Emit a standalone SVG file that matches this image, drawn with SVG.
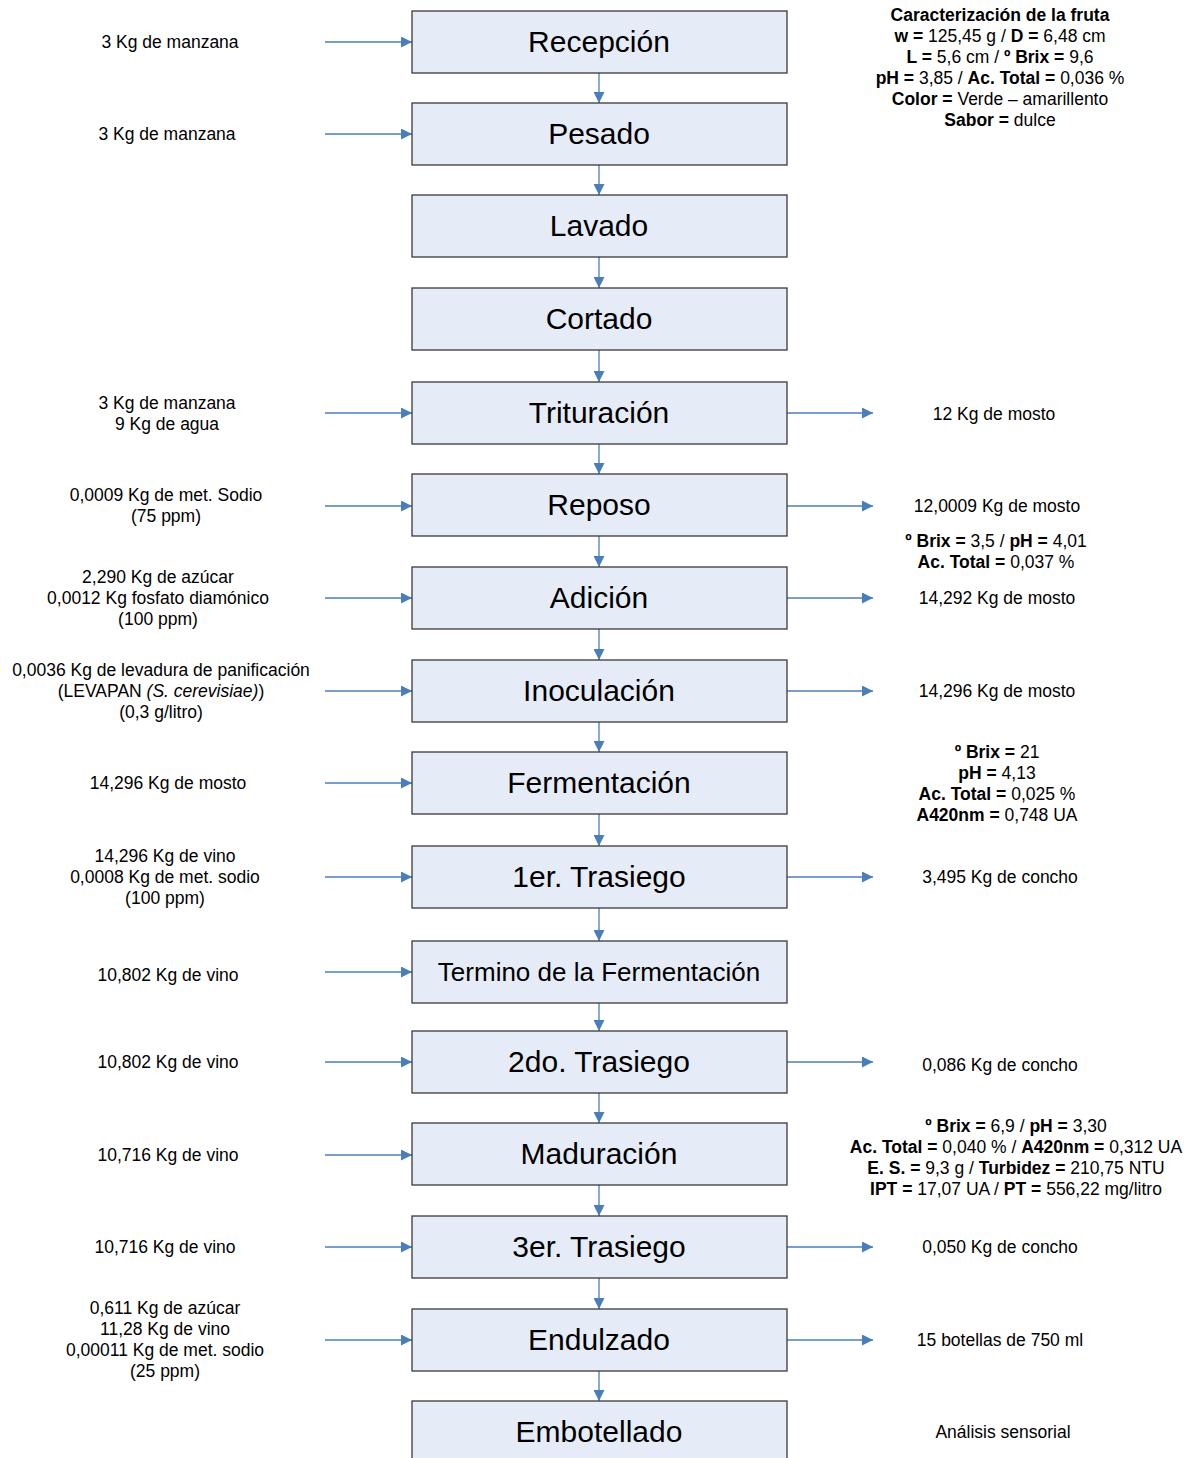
<svg xmlns="http://www.w3.org/2000/svg" width="1201" height="1458" viewBox="0 0 1201 1458">
<defs>
<style>
.box{fill:#E6ECF7;stroke:#3a3a3a;stroke-width:1.3}
.bt{font-family:"Liberation Sans",Arial,sans-serif;font-size:30px;fill:#000;text-anchor:middle}
.st{font-family:"Liberation Sans",Arial,sans-serif;font-size:17.5px;fill:#000;text-anchor:middle}
.b{font-weight:bold}
.c{stroke:#4A7EBB;stroke-width:1.3;fill:none;marker-end:url(#ah)}
</style>
<marker id="ah" markerUnits="userSpaceOnUse" markerWidth="11" markerHeight="11" refX="11" refY="5.5" orient="auto">
<path d="M0,0 L11,5.5 L0,11 Z" fill="#4A7EBB"/>
</marker>
</defs>
<rect width="1201" height="1458" fill="#fff"/>
<g id="connectors">
<line class="c" x1="599" y1="73" x2="599" y2="103"/>
<line class="c" x1="599" y1="165" x2="599" y2="195"/>
<line class="c" x1="599" y1="257" x2="599" y2="288"/>
<line class="c" x1="599" y1="350" x2="599" y2="382"/>
<line class="c" x1="599" y1="444" x2="599" y2="474"/>
<line class="c" x1="599" y1="536" x2="599" y2="567"/>
<line class="c" x1="599" y1="629" x2="599" y2="660"/>
<line class="c" x1="599" y1="722" x2="599" y2="752"/>
<line class="c" x1="599" y1="814" x2="599" y2="846"/>
<line class="c" x1="599" y1="908" x2="599" y2="941"/>
<line class="c" x1="599" y1="1003" x2="599" y2="1031"/>
<line class="c" x1="599" y1="1093" x2="599" y2="1123"/>
<line class="c" x1="599" y1="1185" x2="599" y2="1216"/>
<line class="c" x1="599" y1="1278" x2="599" y2="1309"/>
<line class="c" x1="599" y1="1371" x2="599" y2="1401"/>
<line class="c" x1="325" y1="42" x2="412" y2="42"/>
<line class="c" x1="325" y1="134" x2="412" y2="134"/>
<line class="c" x1="325" y1="413" x2="412" y2="413"/>
<line class="c" x1="325" y1="506" x2="412" y2="506"/>
<line class="c" x1="325" y1="598" x2="412" y2="598"/>
<line class="c" x1="325" y1="691" x2="412" y2="691"/>
<line class="c" x1="325" y1="783" x2="412" y2="783"/>
<line class="c" x1="325" y1="877" x2="412" y2="877"/>
<line class="c" x1="325" y1="972" x2="412" y2="972"/>
<line class="c" x1="325" y1="1062" x2="412" y2="1062"/>
<line class="c" x1="325" y1="1155" x2="412" y2="1155"/>
<line class="c" x1="325" y1="1247" x2="412" y2="1247"/>
<line class="c" x1="325" y1="1340" x2="412" y2="1340"/>
<line class="c" x1="787" y1="413" x2="873" y2="413"/>
<line class="c" x1="787" y1="506" x2="873" y2="506"/>
<line class="c" x1="787" y1="598" x2="873" y2="598"/>
<line class="c" x1="787" y1="691" x2="873" y2="691"/>
<line class="c" x1="787" y1="877" x2="873" y2="877"/>
<line class="c" x1="787" y1="1062" x2="873" y2="1062"/>
<line class="c" x1="787" y1="1247" x2="873" y2="1247"/>
<line class="c" x1="787" y1="1340" x2="873" y2="1340"/>
</g>
<g id="recepcion"><rect class="box" x="412" y="11" width="375" height="62"/><text class="bt" x="599" y="52">Recepción</text></g>
<g id="pesado"><rect class="box" x="412" y="103" width="375" height="62"/><text class="bt" x="599" y="144">Pesado</text></g>
<g id="lavado"><rect class="box" x="412" y="195" width="375" height="62"/><text class="bt" x="599" y="236">Lavado</text></g>
<g id="cortado"><rect class="box" x="412" y="288" width="375" height="62"/><text class="bt" x="599" y="329">Cortado</text></g>
<g id="trituracion"><rect class="box" x="412" y="382" width="375" height="62"/><text class="bt" x="599" y="423">Trituración</text></g>
<g id="reposo"><rect class="box" x="412" y="474" width="375" height="62"/><text class="bt" x="599" y="515">Reposo</text></g>
<g id="adicion"><rect class="box" x="412" y="567" width="375" height="62"/><text class="bt" x="599" y="608">Adición</text></g>
<g id="inoculacion"><rect class="box" x="412" y="660" width="375" height="62"/><text class="bt" x="599" y="701">Inoculación</text></g>
<g id="fermentacion"><rect class="box" x="412" y="752" width="375" height="62"/><text class="bt" x="599" y="793">Fermentación</text></g>
<g id="trasiego1"><rect class="box" x="412" y="846" width="375" height="62"/><text class="bt" x="599" y="887">1er. Trasiego</text></g>
<g id="termino"><rect class="box" x="412" y="941" width="375" height="62"/><text class="bt" x="599" y="981" style="font-size:26px">Termino de la Fermentación</text></g>
<g id="trasiego2"><rect class="box" x="412" y="1031" width="375" height="62"/><text class="bt" x="599" y="1072">2do. Trasiego</text></g>
<g id="maduracion"><rect class="box" x="412" y="1123" width="375" height="62"/><text class="bt" x="599" y="1164">Maduración</text></g>
<g id="trasiego3"><rect class="box" x="412" y="1216" width="375" height="62"/><text class="bt" x="599" y="1257">3er. Trasiego</text></g>
<g id="endulzado"><rect class="box" x="412" y="1309" width="375" height="62"/><text class="bt" x="599" y="1350">Endulzado</text></g>
<g id="embotellado"><rect class="box" x="412" y="1401" width="375" height="62"/><text class="bt" x="599" y="1442">Embotellado</text></g>
<g id="labels-left">
<text class="st" x="170" y="48">3 Kg de manzana</text>
<text class="st" x="167" y="140">3 Kg de manzana</text>
<text class="st" x="167" y="409">3 Kg de manzana</text>
<text class="st" x="167" y="430">9 Kg de agua</text>
<text class="st" x="166" y="501">0,0009 Kg de met. Sodio</text>
<text class="st" x="166" y="522">(75 ppm)</text>
<text class="st" x="158" y="583">2,290 Kg de azúcar</text>
<text class="st" x="158" y="604">0,0012 Kg fosfato diamónico</text>
<text class="st" x="158" y="625">(100 ppm)</text>
<text class="st" x="161" y="676">0,0036 Kg de levadura de panificación</text>
<text class="st" x="161" y="697">(LEVAPAN <tspan font-style="italic">(S. cerevisiae)</tspan>)</text>
<text class="st" x="161" y="718">(0,3 g/litro)</text>
<text class="st" x="168" y="789">14,296 Kg de mosto</text>
<text class="st" x="165" y="862">14,296 Kg de vino</text>
<text class="st" x="165" y="883">0,0008 Kg de met. sodio</text>
<text class="st" x="165" y="904">(100 ppm)</text>
<text class="st" x="168" y="981">10,802 Kg de vino</text>
<text class="st" x="168" y="1068">10,802 Kg de vino</text>
<text class="st" x="168" y="1161">10,716 Kg de vino</text>
<text class="st" x="165" y="1253">10,716 Kg de vino</text>
<text class="st" x="165" y="1314">0,611 Kg de azúcar</text>
<text class="st" x="165" y="1335">11,28 Kg de vino</text>
<text class="st" x="165" y="1356">0,00011 Kg de met. sodio</text>
<text class="st" x="165" y="1377">(25 ppm)</text>
</g>
<g id="labels-right">
<text class="st b" x="1000" y="21">Caracterización de la fruta</text>
<text class="st" x="1000" y="42"><tspan class="b">w =</tspan> 125,45 g / <tspan class="b">D =</tspan> 6,48 cm</text>
<text class="st" x="1000" y="63"><tspan class="b">L =</tspan> 5,6 cm / <tspan class="b">º Brix =</tspan> 9,6</text>
<text class="st" x="1000" y="84"><tspan class="b">pH =</tspan> 3,85 / <tspan class="b">Ac. Total =</tspan> 0,036 %</text>
<text class="st" x="1000" y="105"><tspan class="b">Color =</tspan> Verde – amarillento</text>
<text class="st" x="1000" y="126"><tspan class="b">Sabor =</tspan> dulce</text>
<text class="st" x="994" y="420">12 Kg de mosto</text>
<text class="st" x="997" y="512">12,0009 Kg de mosto</text>
<text class="st" x="996" y="547"><tspan class="b">º Brix =</tspan> 3,5 / <tspan class="b">pH =</tspan> 4,01</text>
<text class="st" x="996" y="568"><tspan class="b">Ac. Total =</tspan> 0,037 %</text>
<text class="st" x="997" y="604">14,292 Kg de mosto</text>
<text class="st" x="997" y="697">14,296 Kg de mosto</text>
<text class="st" x="997" y="758"><tspan class="b">º Brix =</tspan> 21</text>
<text class="st" x="997" y="779"><tspan class="b">pH =</tspan> 4,13</text>
<text class="st" x="997" y="800"><tspan class="b">Ac. Total =</tspan> 0,025 %</text>
<text class="st" x="997" y="821"><tspan class="b">A420nm =</tspan> 0,748 UA</text>
<text class="st" x="1000" y="883">3,495 Kg de concho</text>
<text class="st" x="1000" y="1071">0,086 Kg de concho</text>
<text class="st" x="1016" y="1132"><tspan class="b">º Brix =</tspan> 6,9 / <tspan class="b">pH =</tspan> 3,30</text>
<text class="st" x="1016" y="1153"><tspan class="b">Ac. Total =</tspan> 0,040 % / <tspan class="b">A420nm =</tspan> 0,312 UA</text>
<text class="st" x="1016" y="1174"><tspan class="b">E. S. =</tspan> 9,3 g / <tspan class="b">Turbidez =</tspan> 210,75 NTU</text>
<text class="st" x="1016" y="1195"><tspan class="b">IPT =</tspan> 17,07 UA / <tspan class="b">PT =</tspan> 556,22 mg/litro</text>
<text class="st" x="1000" y="1253">0,050 Kg de concho</text>
<text class="st" x="1000" y="1346">15 botellas de 750 ml</text>
<text class="st" x="1003" y="1438">Análisis sensorial</text>
</g>
</svg>
